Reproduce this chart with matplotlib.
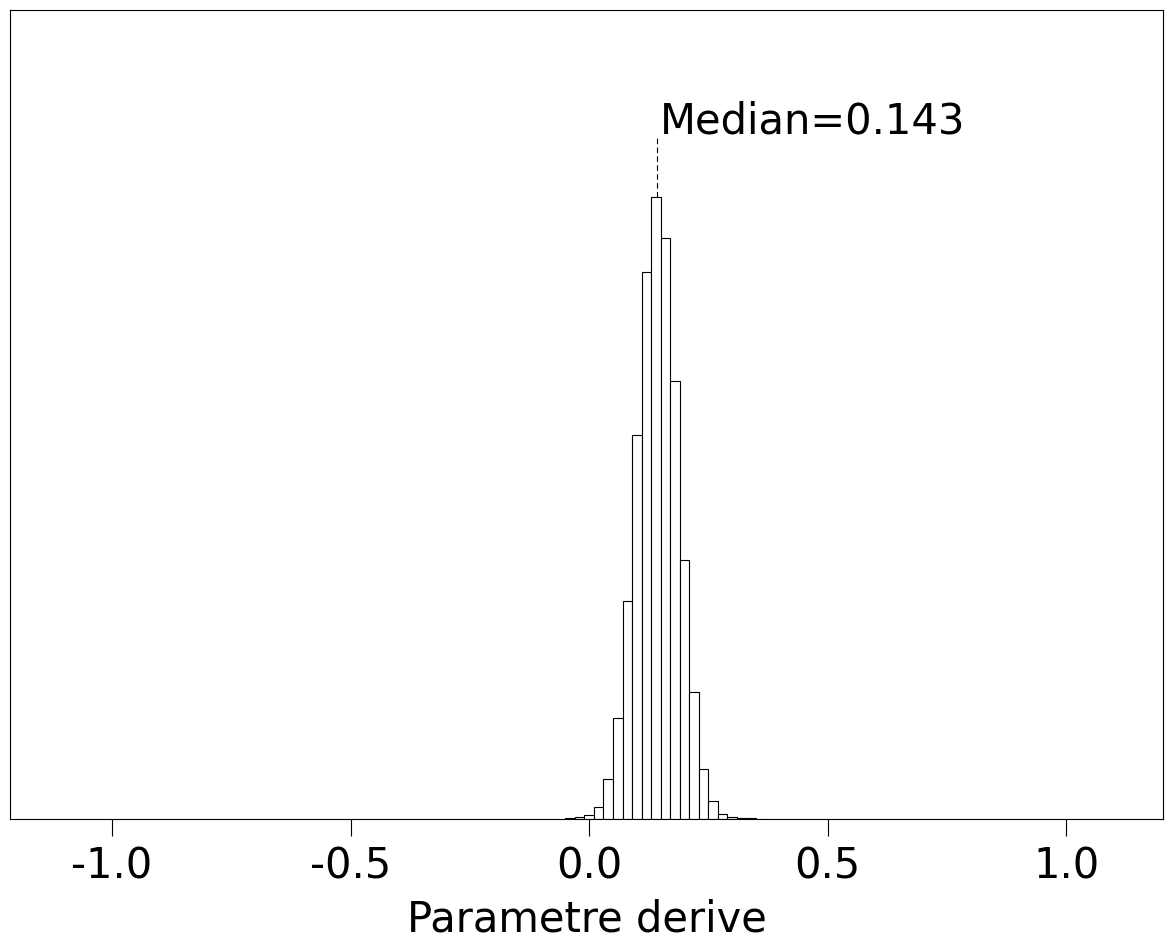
import numpy as np
import matplotlib
matplotlib.use("Agg")
import matplotlib.pyplot as plt

plt.rcParams['font.family'] = ['DejaVu Sans']
plt.rcParams['axes.unicode_minus'] = False

# bordes de las clases del histograma (ancho 0.02)
bin_edges = np.round(np.arange(-0.05, 0.3701, 0.02), 2)
# frecuencias
counts = [5, 15, 37, 123, 397, 1013, 2177, 3837, 5467, 6217,
          5807, 4383, 2587, 1270, 500, 177, 50, 23, 10, 7, 3]
median_val = 0.143
tick_vals = [-1.0, -0.5, 0.0, 0.5, 1.0]

fig = plt.figure(figsize=(11.65, 9.42), dpi=100)
ax = fig.add_axes([10/1165, 1 - 819/942, 1153/1165, 809/942])

ax.bar(bin_edges[:-1], counts, width=np.diff(bin_edges), align="edge",
       color="white", edgecolor="black", linewidth=0.8)

ymax = max(counts) * 1.301
ax.set_ylim(0, ymax)
ax.set_xlim(-1.214, 1.203)

# linea de la mediana
top = counts[int(np.searchsorted(bin_edges, median_val)) - 1]
ax.plot([median_val, median_val], [top, 1.095 * max(counts)],
        color="black", linestyle=(0, (5, 3)), linewidth=0.8)
ax.text(median_val + 0.005, 1.103 * max(counts), "Median=0.143",
        fontsize=30, ha="left", va="baseline")

ax.set_xticks(tick_vals)
ax.set_xticklabels([f"{v:.1f}" for v in tick_vals])
ax.set_yticks([])
ax.tick_params(axis="x", direction="out", length=12, width=0.8,
               labelsize=30, pad=7)
for s in ax.spines.values():
    s.set_linewidth(0.8)
ax.set_xlabel("Parametre derive", fontsize=30, labelpad=8)

fig.savefig("out.png", dpi=100)
